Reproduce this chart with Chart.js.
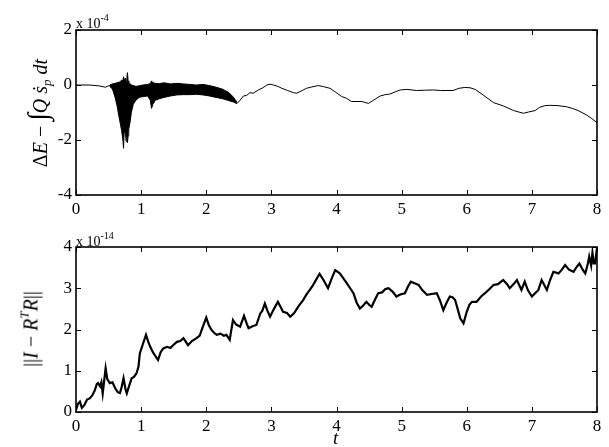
<!DOCTYPE html>
<html>
<head>
<meta charset="utf-8">
<script src="https://cdn.jsdelivr.net/npm/chart.js@4"></script>
<style>
  body { margin: 0; background: #fff; }
  #wrap { position: relative; width: 609px; height: 447px; font-family: "Liberation Serif", "DejaVu Serif", serif; color: #000; }
  canvas { position: absolute; left: 0; }
  .lbl { position: absolute; white-space: nowrap; line-height: 1; }
  .exp { font-size: 14px; }
  .exp sup { font-size: 10px; vertical-align: 7px; }
  .ytitle { font-size: 20px; font-style: italic; transform: translate(-50%, -50%) rotate(-90deg); }
  .ytitle .up { font-style: normal; }
  .ytitle .int { font-size: 28px; font-style: normal; }
  .ytitle sub { font-size: 13px; vertical-align: -4px; }
  .ytitle sup { font-size: 13px; vertical-align: 9px; }
</style>
</head>
<body>
<div id="wrap">
  <canvas id="chartEnergia" width="609" height="223" style="top:0"></canvas>
  <canvas id="chartOrto" width="609" height="224" style="top:223px"></canvas>

  <div class="lbl exp" style="left:76px; top:13px;">x 10<sup>-4</sup></div>
  <div class="lbl exp" style="left:76px; top:231px;">x 10<sup>-14</sup></div>

  <div class="lbl ytitle" style="left:38px; top:113px;"><span class="up">Δ</span>E <span class="up">−</span> <span class="int">∫</span>Q ṡ<sub>p</sub> dt</div>
  <div class="lbl ytitle" style="left:29px; top:329px;"><span class="up">||</span>I <span class="up">−</span> R<sup>T</sup>R<span class="up">||</span></div>
  <div class="lbl" style="left:333px; top:428px; font-size:19px; font-style:italic;">t</div>
</div>

<script>
// valores del panel superior en unidades de 1e-4 (como en el eje)
const tInicio = [0, 0.2, 0.35, 0.45, 0.5, 0.55];
const eInicio = [0, 0, -0.03, -0.08, -0.03, 0.0];

// banda de oscilacion rapida (envolventes)
const tBanda = [0.52, 0.56, 0.60, 0.63, 0.66, 0.68, 0.70, 0.72, 0.73, 0.74, 0.76, 0.77, 0.78, 0.79, 0.80, 0.81, 0.83, 0.85, 0.88, 0.92, 0.97, 1.03, 1.10, 1.14, 1.16, 1.18, 1.22, 1.28, 1.35, 1.45, 1.55, 1.65, 1.75, 1.85, 1.95, 2.05, 2.15, 2.25, 2.35, 2.42, 2.47];
const eBandaSup = [0.00, 0.04, 0.06, 0.08, 0.10, 0.12, 0.18, 0.15, 0.30, 0.18, 0.25, 0.10, 0.20, 0.45, 0.15, 0.10, 0.05, 0.00, -0.02, -0.05, -0.03, 0.00, 0.02, 0.05, 0.15, 0.08, 0.06, 0.05, 0.08, 0.04, 0.06, 0.04, 0.02, 0.00, 0.02, -0.02, -0.08, -0.15, -0.28, -0.45, -0.62];
const eBandaInf = [-0.05, -0.15, -0.45, -0.75, -1.15, -1.40, -1.65, -2.00, -2.30, -1.70, -1.75, -2.05, -1.80, -2.10, -1.85, -1.60, -1.35, -1.00, -0.70, -0.55, -0.45, -0.42, -0.40, -0.55, -0.85, -0.70, -0.55, -0.50, -0.45, -0.40, -0.36, -0.35, -0.35, -0.34, -0.36, -0.40, -0.45, -0.50, -0.57, -0.62, -0.68];

const tFinal = [2.47, 2.52, 2.57, 2.62, 2.67, 2.72, 2.80, 2.87, 2.93, 2.98, 3.03, 3.10, 3.16, 3.25, 3.34, 3.39, 3.44, 3.49, 3.54, 3.62, 3.72, 3.80, 3.90, 3.98, 4.08, 4.15, 4.23, 4.30, 4.39, 4.49, 4.57, 4.67, 4.75, 4.82, 4.90, 4.98, 5.08, 5.23, 5.35, 5.49, 5.60, 5.79, 5.88, 5.97, 6.05, 6.13, 6.25, 6.41, 6.56, 6.72, 6.87, 6.95, 7.05, 7.12, 7.20, 7.28, 7.40, 7.53, 7.62, 7.71, 7.84, 7.92, 8.00];
const eFinal = [-0.68, -0.55, -0.40, -0.38, -0.28, -0.30, -0.18, -0.10, 0.00, 0.03, 0.00, -0.05, -0.12, -0.20, -0.28, -0.30, -0.24, -0.18, -0.12, -0.07, -0.02, -0.06, -0.12, -0.25, -0.42, -0.48, -0.60, -0.60, -0.60, -0.67, -0.55, -0.40, -0.35, -0.33, -0.25, -0.18, -0.16, -0.20, -0.19, -0.18, -0.20, -0.20, -0.12, -0.09, -0.10, -0.16, -0.36, -0.64, -0.76, -0.93, -1.03, -0.98, -0.93, -0.81, -0.75, -0.74, -0.75, -0.79, -0.85, -0.93, -1.09, -1.22, -1.37];

// panel inferior en unidades de 1e-14
const tOrto = [0.00, 0.03, 0.06, 0.09, 0.13, 0.17, 0.21, 0.25, 0.29, 0.32, 0.34, 0.37, 0.39, 0.41, 0.455, 0.48, 0.52, 0.56, 0.60, 0.64, 0.675, 0.70, 0.73, 0.76, 0.78, 0.82, 0.855, 0.89, 0.93, 0.96, 0.98, 1.03, 1.075, 1.11, 1.14, 1.18, 1.21, 1.26, 1.30, 1.34, 1.40, 1.45, 1.49, 1.55, 1.60, 1.65, 1.72, 1.78, 1.85, 1.90, 1.93, 2.00, 2.04, 2.08, 2.12, 2.16, 2.22, 2.27, 2.31, 2.36, 2.41, 2.46, 2.52, 2.58, 2.62, 2.65, 2.71, 2.77, 2.83, 2.86, 2.90, 2.94, 2.98, 3.04, 3.10, 3.14, 3.18, 3.24, 3.29, 3.35, 3.41, 3.49, 3.54, 3.59, 3.63, 3.67, 3.74, 3.80, 3.87, 3.93, 3.98, 4.05, 4.10, 4.16, 4.21, 4.26, 4.31, 4.36, 4.41, 4.46, 4.50, 4.54, 4.59, 4.64, 4.70, 4.75, 4.80, 4.86, 4.92, 4.98, 5.05, 5.10, 5.14, 5.20, 5.26, 5.32, 5.39, 5.46, 5.54, 5.59, 5.64, 5.69, 5.74, 5.78, 5.82, 5.86, 5.90, 5.95, 6.00, 6.04, 6.08, 6.15, 6.22, 6.28, 6.35, 6.41, 6.48, 6.56, 6.62, 6.66, 6.72, 6.77, 6.84, 6.89, 6.94, 7.00, 7.05, 7.10, 7.15, 7.19, 7.23, 7.28, 7.33, 7.41, 7.46, 7.51, 7.57, 7.64, 7.68, 7.73, 7.78, 7.82, 7.86, 7.88, 7.91, 7.93, 7.95, 7.97, 7.99, 8.00];
const nOrto = [0.05, 0.20, 0.25, 0.10, 0.17, 0.30, 0.33, 0.40, 0.53, 0.68, 0.70, 0.62, 0.72, 0.45, 1.06, 0.80, 0.70, 0.72, 0.58, 0.48, 0.46, 0.60, 0.82, 0.55, 0.45, 0.65, 0.82, 0.85, 0.94, 1.10, 1.42, 1.66, 1.87, 1.70, 1.58, 1.45, 1.38, 1.26, 1.45, 1.54, 1.58, 1.55, 1.62, 1.70, 1.72, 1.79, 1.62, 1.72, 1.79, 1.85, 1.99, 2.29, 2.10, 1.99, 1.92, 1.87, 1.90, 1.85, 1.87, 1.75, 2.23, 2.12, 2.07, 2.33, 2.15, 2.03, 2.08, 2.11, 2.39, 2.45, 2.63, 2.45, 2.31, 2.50, 2.67, 2.55, 2.43, 2.40, 2.31, 2.40, 2.55, 2.72, 2.85, 2.96, 3.05, 3.16, 3.35, 3.20, 3.00, 3.25, 3.44, 3.36, 3.25, 3.12, 3.00, 2.88, 2.65, 2.51, 2.58, 2.67, 2.60, 2.55, 2.72, 2.88, 2.90, 2.98, 3.00, 2.92, 2.80, 2.85, 2.88, 3.05, 3.16, 3.12, 3.08, 2.95, 2.84, 2.86, 2.88, 2.70, 2.47, 2.65, 2.80, 2.78, 2.72, 2.50, 2.27, 2.15, 2.43, 2.60, 2.67, 2.67, 2.80, 2.88, 2.98, 3.08, 3.10, 3.20, 3.10, 3.00, 3.10, 3.20, 2.96, 3.16, 2.95, 2.80, 2.88, 2.96, 3.20, 3.08, 2.96, 3.20, 3.40, 3.36, 3.45, 3.56, 3.45, 3.40, 3.50, 3.60, 3.45, 3.36, 3.60, 3.77, 3.55, 3.86, 3.60, 3.60, 3.85, 3.75];

const ticksX = [0, 1, 2, 3, 4, 5, 6, 7, 8];

const familiaSerif = "Liberation Serif";

function puntos(xs, ys) {
    return xs.map((x, i) => ({ x: x, y: ys[i] }));
}

// caja estilo matlab con marcas hacia dentro
const cajaPlugin = {
    id: "caja",
    afterDraw(chart) {
        const { ctx, chartArea: a, scales } = chart;
        ctx.save();
        ctx.strokeStyle = "#000";
        ctx.lineWidth = 1;
        ctx.beginPath();
        scales.x.ticks.forEach(t => {
            const p = Math.round(scales.x.getPixelForValue(t.value)) + 0.5;
            ctx.moveTo(p, a.top); ctx.lineTo(p, a.top + 5);
            ctx.moveTo(p, a.bottom); ctx.lineTo(p, a.bottom - 5);
        });
        scales.y.ticks.forEach(t => {
            const p = Math.round(scales.y.getPixelForValue(t.value)) + 0.5;
            ctx.moveTo(a.left, p); ctx.lineTo(a.left + 5, p);
            ctx.moveTo(a.right, p); ctx.lineTo(a.right - 5, p);
        });
        ctx.stroke();
        ctx.lineWidth = 1.6;
        ctx.strokeRect(a.left, a.top, a.right - a.left, a.bottom - a.top);
        ctx.restore();
    }
};

function ejes(yMin, yMax, paso, altoX) {
    return {
        x: {
            type: "linear", min: 0, max: 8,
            afterBuildTicks: s => { s.ticks = ticksX.map(v => ({ value: v })); },
            afterFit: s => { s.height = altoX; },
            grid: { display: false, drawTicks: false },
            border: { display: false },
            ticks: { color: "#000", padding: 4, autoSkip: false, maxRotation: 0 }
        },
        y: {
            min: yMin, max: yMax,
            afterFit: s => { s.width = 76; },
            grid: { display: false, drawTicks: false },
            border: { display: false },
            ticks: { color: "#000", padding: 4, stepSize: paso }
        }
    };
}

const opcionesBase = {
    responsive: false,
    animation: false,
    events: [],
    plugins: { legend: { display: false }, tooltip: { enabled: false } },
    elements: { point: { radius: 0 }, line: { tension: 0 } }
};

function dibujar() {
    Chart.defaults.font.family = familiaSerif;
    Chart.defaults.font.size = 17;
    Chart.defaults.color = "#000";

    new Chart(document.getElementById("chartEnergia"), {
        type: "line",
        data: {
            datasets: [
                { data: puntos(tInicio, eInicio), borderColor: "#000", borderWidth: 1, fill: false },
                { data: puntos(tBanda, eBandaSup), borderColor: "#000", borderWidth: 1, backgroundColor: "#000", fill: "+1" },
                { data: puntos(tBanda, eBandaInf), borderColor: "#000", borderWidth: 1, fill: false },
                { data: puntos(tFinal, eFinal), borderColor: "#000", borderWidth: 1, fill: false }
            ]
        },
        options: Object.assign({}, opcionesBase, {
            layout: { padding: { top: 30, right: 12, left: 0, bottom: 0 } },
            scales: ejes(-4, 2, 2, 28)
        }),
        plugins: [cajaPlugin]
    });

    new Chart(document.getElementById("chartOrto"), {
        type: "line",
        data: {
            datasets: [
                { data: puntos(tOrto, nOrto), borderColor: "#000", borderWidth: 2.2, fill: false }
            ]
        },
        options: Object.assign({}, opcionesBase, {
            layout: { padding: { top: 24, right: 12, left: 0, bottom: 0 } },
            scales: ejes(0, 4, 1, 35)
        }),
        plugins: [cajaPlugin]
    });
}

document.addEventListener("DOMContentLoaded", () => {
    document.fonts.load("17px '" + familiaSerif + "'").then(dibujar, dibujar);
});
</script>
</body>
</html>
